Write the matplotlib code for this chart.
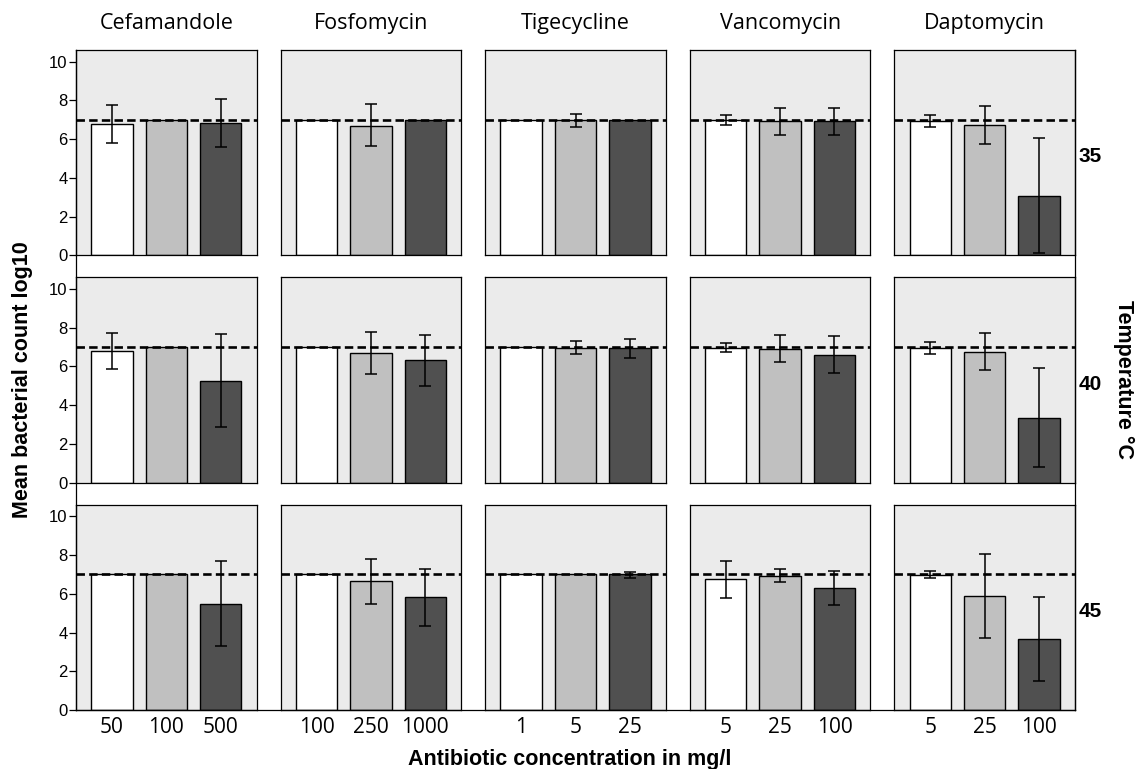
import numpy as np
import matplotlib.pyplot as plt
from matplotlib.lines import Line2D

antibiotics = ['Cefamandole', 'Fosfomycin', 'Tigecycline', 'Vancomycin', 'Daptomycin']
temperatures = ['35', '40', '45']
concentrations = [['50', '100', '500'],
                  ['100', '250', '1000'],
                  ['1', '5', '25'],
                  ['5', '25', '100'],
                  ['5', '25', '100']]

# mean log10 counts, one row per antibiotic (low, mid, high concentration)
mean_35 = [[6.80, 7.00, 6.84], [7.00, 6.70, 7.00], [7.00, 6.98, 7.00], [6.98, 6.93, 6.93], [6.94, 6.75, 3.07]]
mean_40 = [[6.81, 7.00, 5.25], [7.00, 6.69, 6.33], [7.00, 6.95, 6.93], [6.95, 6.90, 6.60], [6.93, 6.76, 3.36]]
mean_45 = [[7.00, 7.00, 5.49], [7.00, 6.66, 5.83], [7.00, 7.00, 7.00], [6.74, 6.93, 6.30], [6.96, 5.88, 3.69]]

# error bar ends (nan = no error bar shown)
nan = np.nan
low_35 = [[5.82, nan, 5.60], [nan, 5.63, nan], [nan, 6.63, nan], [6.74, 6.22, 6.22], [6.65, 5.73, 0.10]]
high_35 = [[7.75, nan, 8.07], [nan, 7.79, nan], [nan, 7.32, nan], [7.22, 7.63, 7.63], [7.24, 7.72, 6.06]]
low_40 = [[5.85, nan, 2.85], [nan, 5.63, 5.01], [nan, 6.62, 6.43], [6.74, 6.23, 5.64], [6.64, 5.80, 0.79]]
high_40 = [[7.75, nan, 7.65], [nan, 7.77, 7.63], [nan, 7.31, 7.44], [7.19, 7.60, 7.56], [7.24, 7.74, 5.93]]
low_45 = [[nan, nan, 3.29], [nan, 5.49, 4.34], [nan, nan, 6.79], [5.76, 6.59, 5.42], [6.79, 3.72, 1.49]]
high_45 = [[nan, nan, 7.68], [nan, 7.79, 7.29], [nan, nan, 7.14], [7.70, 7.29, 7.17], [7.15, 8.06, 5.83]]

means = [mean_35, mean_40, mean_45]
lows = [low_35, low_40, low_45]
highs = [high_35, high_40, high_45]

baseline = 7.0
bar_colors = ['#ffffff', '#c0c0c0', '#505050']
panel_bg = '#ebebeb'
num_font = 'Liberation Sans'
label_font = 'Open Sans'

fig, axes = plt.subplots(3, 5, figsize=(11.37, 7.69), dpi=100)
fig.subplots_adjust(left=76 / 1137, right=1075 / 1137, top=1 - 50 / 769, bottom=1 - 710 / 769,
                    wspace=0.133, hspace=0.107)

x = np.arange(3)
for r in range(3):
    for c in range(5):
        ax = axes[r, c]
        ax.set_facecolor(panel_bg)
        m = np.array(means[r][c])
        lo = np.array(lows[r][c])
        hi = np.array(highs[r][c])
        ax.bar(x, m, width=0.76, color=bar_colors, edgecolor='black', linewidth=1.0, zorder=2)
        ax.axhline(baseline, color='black', lw=1.9, ls=(0, (3.2, 1.6)), zorder=3)
        ok = ~np.isnan(lo)
        ax.errorbar(x[ok], m[ok], yerr=[m[ok] - lo[ok], hi[ok] - m[ok]], fmt='none',
                    ecolor='black', elinewidth=1.1, capsize=4, capthick=1.1, zorder=4)
        ax.set_xlim(-0.66, 2.66)
        ax.set_ylim(0, 10.6)
        for s in ax.spines.values():
            s.set_linewidth(0.9)
        ax.set_yticks([0, 2, 4, 6, 8, 10])
        if c == 0:
            ax.tick_params(axis='y', length=5, width=0.9, pad=1, labelsize=12)
            for t in ax.get_yticklabels():
                t.set_fontfamily(num_font)
        else:
            ax.tick_params(axis='y', length=0, labelleft=False)
        ax.set_xticks(x)
        if r == 2:
            ax.set_xticklabels(concentrations[c], fontsize=15, fontfamily=label_font)
            ax.tick_params(axis='x', length=0, pad=5)
        else:
            ax.tick_params(axis='x', length=0, labelbottom=False)
        if r == 0:
            ax.annotate(antibiotics[c], xy=(0.5, 1.0), xycoords='axes fraction',
                        xytext=(0, 19), textcoords='offset points', ha='center', va='center',
                        fontsize=15.5, fontfamily=label_font)
        if c == 4:
            ax.text(1.02, 0.48, temperatures[r], transform=ax.transAxes, ha='left', va='center',
                    fontsize=15, fontweight='bold', fontfamily=num_font)

# continuous outer frame lines (left, right, bottom)
p_top = axes[0, 0].get_position()
p_bot = axes[2, 0].get_position()
p_right = axes[2, 4].get_position()
fig.add_artist(Line2D([p_top.x0, p_top.x0], [p_bot.y0, p_top.y1], color='black', lw=0.9))
fig.add_artist(Line2D([p_right.x1, p_right.x1], [p_bot.y0, p_top.y1], color='black', lw=0.9))
fig.add_artist(Line2D([p_bot.x0, p_right.x1], [p_bot.y0, p_bot.y0], color='black', lw=0.9))

fig.text(0.02, 0.506, 'Mean bacterial count log10', rotation=90, ha='center', va='center',
         fontsize=15.5, fontweight='bold', fontfamily=num_font)
fig.text(0.501, 0.012, 'Antibiotic concentration in mg/l', ha='center', va='center',
         fontsize=15.5, fontweight='bold', fontfamily=num_font)
fig.text(0.988, 0.506, 'Temperature °C', rotation=-90, ha='center', va='center',
         fontsize=15.5, fontweight='bold', fontfamily=num_font)

fig.savefig('out.png', dpi=100, facecolor='white')
